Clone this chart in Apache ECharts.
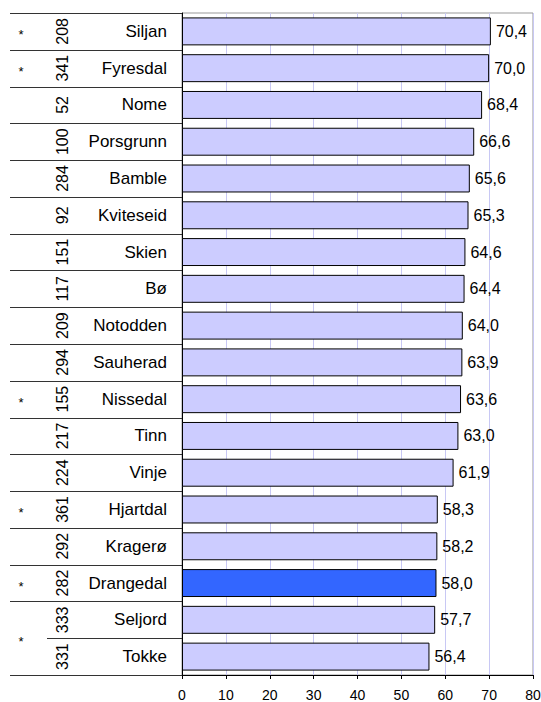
<!DOCTYPE html>
<html>
<head>
<meta charset="utf-8">
<script src="https://cdn.jsdelivr.net/npm/echarts@6/dist/echarts.min.js"></script>
<style>
html,body{margin:0;padding:0;background:#fff;}
#chart{width:541px;height:702px;}
</style>
</head>
<body>
<div id="chart"></div>
<script>
// ---- data ----
var names = ['Siljan','Fyresdal','Nome','Porsgrunn','Bamble','Kviteseid','Skien','Bø','Notodden','Sauherad','Nissedal','Tinn','Vinje','Hjartdal','Kragerø','Drangedal','Seljord','Tokke'];
var codes = ['208','341','52','100','284','92','151','117','209','294','155','217','224','361','292','282','333','331'];
var values = [70.4,70.0,68.4,66.6,65.6,65.3,64.6,64.4,64.0,63.9,63.6,63.0,61.9,58.3,58.2,58.0,57.7,56.4];
// rows flagged with "*" (first row, last row of each merged cell)
var starSpans = [[0,0],[1,1],[10,10],[13,13],[15,15],[16,17]];
var highlight = 'Drangedal';
var xTicks = [0,10,20,30,40,50,60,70,80];

var FONT = '"Liberation Sans", Arial, sans-serif';
var chart = echarts.init(document.getElementById('chart'), null, {renderer:'svg'});

var option = {
  animation: false,
  backgroundColor: '#fff',
  grid: {left:182, right:8, top:13, bottom:27, show:true, borderColor:'#999', borderWidth:1,
         backgroundColor:'transparent', containLabel:false, outerBoundsMode:'none'},
  xAxis: {
    type:'value', min: xTicks[0], max: xTicks[xTicks.length-1], interval: xTicks[1]-xTicks[0],
    axisLine:{show:true, onZero:false, lineStyle:{color:'#000', width:1}},
    axisTick:{show:true, length:4, lineStyle:{color:'#000'}},
    axisLabel:{color:'#000', fontSize:14, fontFamily:FONT, margin:13, hideOverlap:false},
    splitLine:{show:true, lineStyle:{color:'#c8c8f4', width:1}}
  },
  yAxis: [
    {
      type:'category', inverse:true, data:names,
      axisLine:{show:true, lineStyle:{color:'#000', width:1}},
      axisTick:{show:false},
      axisLabel:{color:'#000', fontSize:17, fontFamily:FONT, margin:15, align:'right'},
      splitLine:{show:false}
    },
    {
      type:'category', inverse:true, data:codes, position:'left',
      axisLine:{show:false}, axisTick:{show:false},
      axisLabel:{color:'#000', fontSize:16, fontFamily:FONT, margin:112, rotate:90},
      splitLine:{show:false}
    }
  ],
  series: [{
    type:'bar', yAxisIndex:0,
    data: values.map(function(v,i){
      return {value:v, itemStyle:{color: names[i]===highlight ? '#3366ff' : '#ccccff'}};
    }),
    barCategoryGap:'24%',
    itemStyle:{borderColor:'#000', borderWidth:1},
    label:{show:true, position:'right', distance:5, color:'#000', fontSize:16, fontFamily:FONT,
      formatter:function(p){ return p.value.toFixed(1).replace('.', ','); }}
  }]
};
chart.setOption(option);

// table lines and asterisks derived from the category scale
function buildTable(){
  var centers = names.map(function(n){ return chart.convertToPixel({yAxisIndex:0}, n); });
  var band = centers.length>1 ? centers[1]-centers[0] : 0;
  var axisX = chart.convertToPixel({xAxisIndex:0}, xTicks[0]);
  var merged = {};
  starSpans.forEach(function(s){ for (var k=s[0]+1;k<=s[1];k++) merged[k]=true; });
  var els = [];
  for (var k=0;k<=names.length;k++){
    var y = (k<names.length ? centers[k]-band/2 : centers[names.length-1]+band/2);
    y = Math.round(y)+0.5;
    els.push({type:'line', silent:true, z:10,
      shape:{x1: merged[k] ? 47 : 10, y1:y, x2:axisX, y2:y},
      style:{stroke:'#333', lineWidth:1}});
  }
  starSpans.forEach(function(s){
    var yc = (centers[s[0]]+centers[s[1]])/2;
    els.push({type:'text', silent:true, z:10,
      style:{text:'*', x:21, y:yc+3, fontSize:13, fontFamily:FONT, fill:'#000', textAlign:'center', textVerticalAlign:'middle'}});
  });
  chart.setOption({graphic:{elements:els}});
}
buildTable();
</script>
</body>
</html>
